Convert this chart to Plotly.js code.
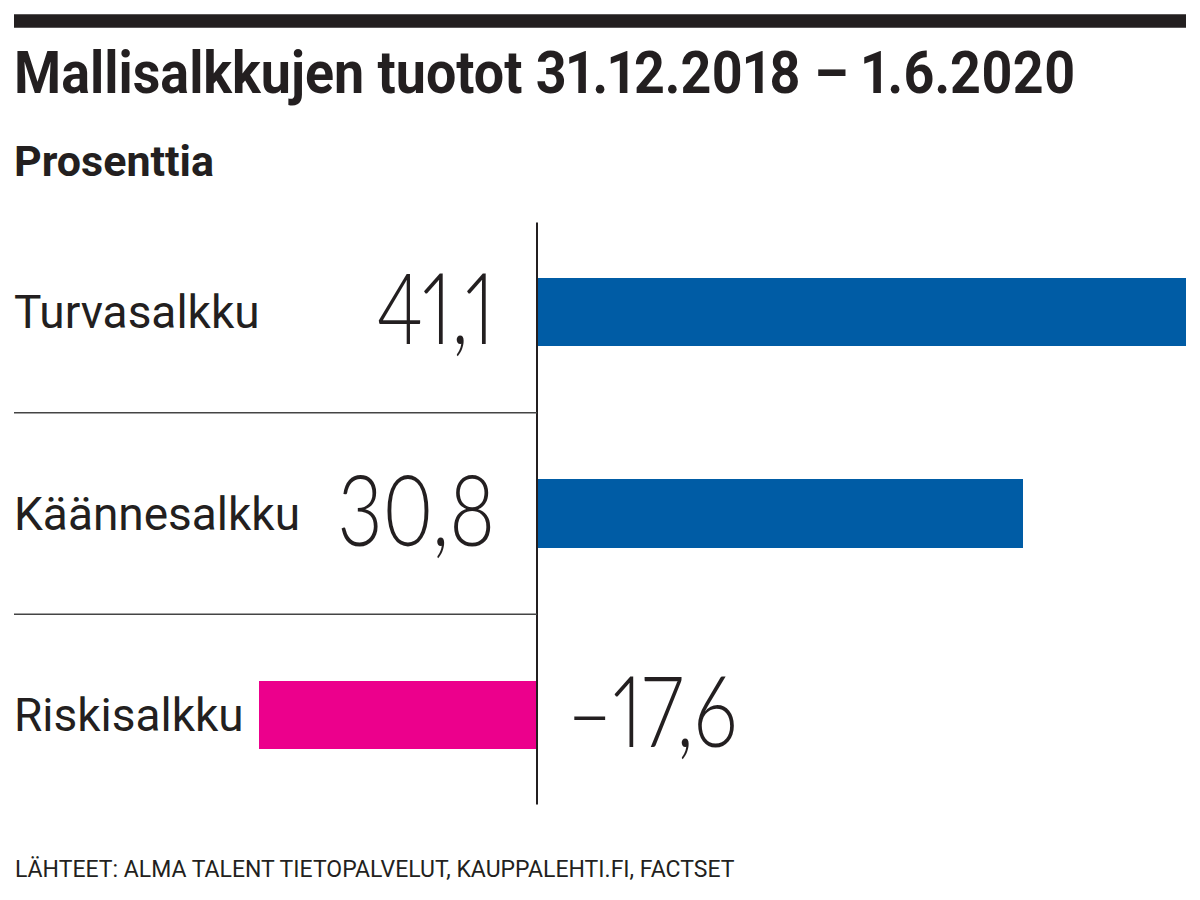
<!DOCTYPE html>
<html>
<head>
<meta charset="utf-8">
<script src="https://cdn.plot.ly/plotly-3.0.1.min.js"></script>
<style>
  html, body { margin: 0; padding: 0; background: #ffffff; }
  #chart { width: 1200px; height: 900px; }
  svg text { font-feature-settings: "pnum" 1; }
</style>
</head>
<body>
<div id="chart"></div>
<script>
// ---- Data ----
const categories = ["Turvasalkku", "Käännesalkku", "Riskisalkku"];
const returns = [41.1, 30.8, -17.6];
const chartTitle = "Mallisalkkujen tuotot 31.12.2018 – 1.6.2020";
const chartSubtitle = "Prosenttia";
const sourceText = "LÄHTEET: ALMA TALENT TIETOPALVELUT, KAUPPALEHTI.FI, FACTSET";

// ---- Styles / geometry ----
const W = 1200, H = 900;
const plotTop = 210.5, plotBottom = 816.5;
const plotH = plotBottom - plotTop;
const zeroPx = 537, pxPerUnit = 649 / 41.1;
const xMin = -zeroPx / pxPerUnit, xMax = (W - zeroPx) / pxPerUnit;
const BLUE = "#005ca5", PINK = "#ec008c", INK = "#231f20";

const py = p => (plotBottom - p) / plotH;   // pixel y -> paper y
const px = p => p / W;                       // pixel x -> paper x

function fmt(v) {
  const s = Math.abs(v).toFixed(1).replace(".", ",");
  return (v < 0 ? "\u2013" : "") + s;
}

const trace = {
  type: "bar",
  orientation: "h",
  y: categories,
  x: returns,
  width: 0.34,
  marker: { color: returns.map(v => v >= 0 ? BLUE : PINK), line: { width: 0 } },
  hoverinfo: "skip"
};

const annotations = [];
// Title
annotations.push({
  xref: "paper", yref: "paper", x: px(12), y: py(72), xanchor: "left", yanchor: "middle",
  text: "<b>" + chartTitle + "</b>", showarrow: false,
  font: { family: "Roboto", size: 59, color: INK }
});
// Subtitle
annotations.push({
  xref: "paper", yref: "paper", x: px(12), y: py(160), xanchor: "left", yanchor: "middle",
  text: "<b>" + chartSubtitle + "</b>", showarrow: false,
  font: { family: "Roboto", size: 43, color: INK }
});
// Source
annotations.push({
  xref: "paper", yref: "paper", x: px(13), y: py(870), xanchor: "left", yanchor: "middle",
  text: sourceText, showarrow: false,
  font: { family: "Roboto", size: 23, color: INK }
});
// Category labels and values
categories.forEach((c, i) => {
  annotations.push({
    xref: "paper", yref: "y", x: px(12), y: c, xanchor: "left", yanchor: "middle",
    text: c, showarrow: false, yshift: 0,
    font: { family: "Roboto", size: 46, color: INK }
  });
  const v = returns[i];
  annotations.push({
    xref: "x", yref: "y", x: 0, y: c,
    xanchor: v >= 0 ? "right" : "left", xshift: v >= 0 ? -40 : 28,
    yanchor: "middle", yshift: 6,
    text: fmt(v), showarrow: false,
    font: { family: "Lato", size: 98, weight: 300, color: INK }
  });
});

const shapes = [
  // top black rule
  { type: "rect", xref: "paper", yref: "paper", x0: px(14), x1: px(1186), y0: py(27), y1: py(13.5),
    fillcolor: INK, line: { width: 0 }, layer: "above" },
  // zero axis
  { type: "line", xref: "x", yref: "paper", x0: 0, x1: 0, y0: py(805), y1: py(222),
    line: { color: INK, width: 2 }, layer: "above" },
  // separators
  { type: "line", xref: "paper", yref: "y", x0: px(14), x1: px(537), y0: 0.5, y1: 0.5,
    line: { color: "#444", width: 1.5 } },
  { type: "line", xref: "paper", yref: "y", x0: px(14), x1: px(537), y0: 1.5, y1: 1.5,
    line: { color: "#444", width: 1.5 } }
];

const layout = {
  width: W, height: H,
  margin: { l: 0, r: 0, t: plotTop, b: H - plotBottom, pad: 0 },
  paper_bgcolor: "#ffffff", plot_bgcolor: "#ffffff",
  showlegend: false,
  xaxis: { range: [xMin, xMax], visible: false, fixedrange: true },
  yaxis: { type: "category", categoryorder: "array", categoryarray: categories,
           range: [2.5, -0.5], visible: false, fixedrange: true },
  annotations: annotations,
  shapes: shapes,
  bargap: 0
};

function squeeze(idx, sx, origin) {
  const t = document.querySelector('#chart .annotation[data-index="' + idx + '"] text');
  if (!t) return;
  t.style.transformBox = "fill-box";
  t.style.transformOrigin = origin;
  t.style.transform = "scaleX(" + sx + ")";
}

Plotly.newPlot("chart", [trace], layout, { staticPlot: true, displayModeBar: false }).then(() => {
  squeeze(0, 0.912, "left center");
  returns.forEach((v, i) => squeeze(4 + 2 * i, 0.8, v >= 0 ? "right center" : "left center"));
});
</script>
</body>
</html>
